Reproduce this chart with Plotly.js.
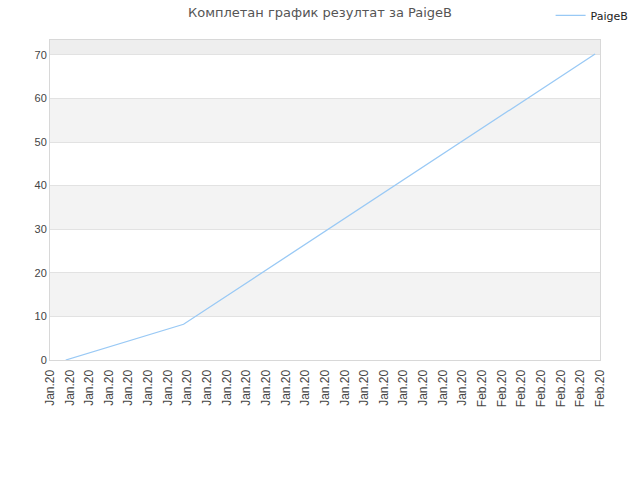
<!DOCTYPE html>
<html>
<head>
<meta charset="utf-8">
<script src="https://cdn.plot.ly/plotly-3.0.1.min.js"></script>
<style>
  body { margin: 0; background: #fff; }
  #plot { width: 640px; height: 480px; }
</style>
</head>
<body>
<div id="plot"></div>
<script>
// Tick labels along the bottom, one per slot
var tickLabels = [
  'Jan.20','Jan.20','Jan.20','Jan.20','Jan.20','Jan.20','Jan.20','Jan.20',
  'Jan.20','Jan.20','Jan.20','Jan.20','Jan.20','Jan.20','Jan.20','Jan.20',
  'Jan.20','Jan.20','Jan.20','Jan.20','Jan.20','Jan.20',
  'Feb.20','Feb.20','Feb.20','Feb.20','Feb.20','Feb.20','Feb.20'
];
var tickSlots = tickLabels.map(function (t, i) { return i; });

// Score of PaigeB
var scoreX = [0.8, 6.8, 27.75];
var scoreY = [0, 8.2, 70.2];

// Horizontal bands behind the plot (lower, upper)
var bandLow = [10, 30, 50, 70];
var bandHigh = [20, 40, 60, 73.4];

var shapes = bandLow.map(function (lo, i) {
  return {
    type: 'rect', xref: 'paper', yref: 'y', layer: 'below',
    x0: 0, x1: 1, y0: lo, y1: bandHigh[i],
    fillcolor: i === bandLow.length - 1 ? '#eeeeee' : '#f3f3f3',
    line: { width: 0 }
  };
});

var trace1 = {
  x: scoreX,
  y: scoreY,
  name: 'PaigeB',
  type: 'scatter',
  mode: 'lines',
  line: { color: '#99c9f5', width: 1.3 }
};

var layout = {
  width: 640,
  height: 480,
  margin: { l: 50, r: 40, t: 40, b: 120, autoexpand: false },
  paper_bgcolor: '#ffffff',
  plot_bgcolor: '#ffffff',
  font: { family: 'Liberation Sans, Arial, sans-serif', size: 11, color: '#444' },
  title: {
    text: 'Комплетан график резултат за PaigeB',
    x: 0.5, xanchor: 'center', y: 0.975, yanchor: 'middle',
    font: { family: 'DejaVu Sans, sans-serif', size: 13, color: '#555' }
  },
  showlegend: true,
  legend: {
    xref: 'container', yref: 'container',
    x: 0.99, xanchor: 'right', y: 0.968, yanchor: 'middle',
    font: { family: 'DejaVu Sans, sans-serif', size: 11, color: '#222' },
    bgcolor: 'rgba(0,0,0,0)'
  },
  shapes: shapes,
  hovermode: false,
  xaxis: {
    type: 'linear',
    range: [0, 28],
    tickvals: tickSlots,
    ticktext: tickLabels,
    tickangle: -90,
    showgrid: false,
    zeroline: false,
    showline: true,
    linecolor: '#d8d8d8',
    mirror: true,
    ticks: '',
    ticklabelstandoff: 4,
    tickfont: { size: 12, color: '#444' }
  },
  yaxis: {
    range: [0, 73.4],
    tick0: 0,
    dtick: 10,
    showgrid: true,
    gridcolor: '#e2e2e2',
    zeroline: false,
    showline: true,
    linecolor: '#d8d8d8',
    mirror: true,
    ticks: '',
    tickfont: { size: 11, color: '#444' }
  }
};

Plotly.newPlot('plot', [trace1], layout, { displayModeBar: false });
</script>
</body>
</html>
